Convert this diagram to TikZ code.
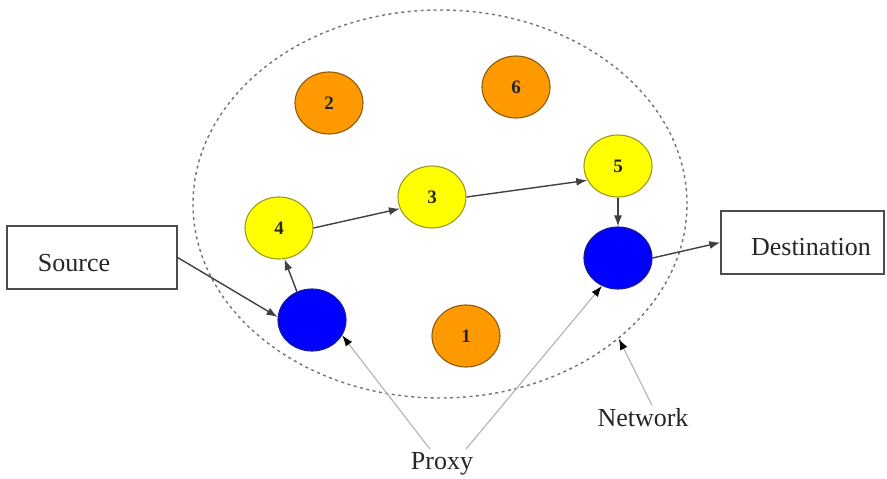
\documentclass[tikz,border=0pt]{standalone}
\usepackage{fontspec}
\setmainfont{Liberation Serif}
\usetikzlibrary{shapes.geometric,arrows.meta}
\definecolor{orng}{HTML}{FF9900}
\definecolor{orngd}{HTML}{8A5A10}
\definecolor{ylw}{HTML}{FFFF00}
\definecolor{ylwd}{HTML}{9A9A20}
\definecolor{blu}{HTML}{0000FF}
\definecolor{blud}{HTML}{1A1A90}
\begin{document}
\begin{tikzpicture}[x=1pt,y=-1pt,
  every node/.style={font=\fontsize{26}{30}\selectfont, text=black!85},
  nd/.style={ellipse, minimum width=68pt, minimum height=62pt, inner sep=0pt, line width=1.1pt, font=\fontsize{19}{22}\selectfont\bfseries},
  orn/.style={nd, fill=orng, draw=orngd},
  yel/.style={nd, fill=ylw, draw=ylwd},
  blue/.style={nd, fill=blu, draw=blud},
  box/.style={draw=black!70, line width=1.3pt, rectangle, inner sep=0pt},
  arr/.style={-{Latex[length=11pt,width=8pt]}, line width=1.4pt, draw=black!75},
  garr/.style={-{Latex[length=11pt,width=8pt,color=black]}, line width=1.1pt, draw=black!30},
]
\useasboundingbox (0,0) rectangle (887,479);
% network
\node[ellipse, draw=black!55, line width=1.4pt, dash pattern=on 3pt off 3.5pt, minimum width=494pt, minimum height=388pt, inner sep=0pt] (net) at (440,204) {};
% nodes
\node[orn] (n2) at (329,103) {2};
\node[orn] (n6) at (516,87) {6};
\node[orn] (n1) at (466,336) {1};
\node[yel] (n5) at (618,166) {5};
\node[yel] (n3) at (432,197) {3};
\node[yel] (n4) at (279,228) {4};
\node[blue] (bL) at (312,320) {};
\node[blue] (bR) at (618,258) {};
% boxes
\node[box, minimum width=170pt, minimum height=63pt] (src) at (92,257.5) {};
\node (srct) at (74,263) {Source};
\node[box, minimum width=163pt, minimum height=63pt] (dst) at (802.5,242.5) {};
\node (dstt) at (811,247) {Destination};
% labels
\node (proxy) at (442,464) {Proxy};
\node (netl) at (643,418) {Network};
% arrows
\draw[arr] (src.east) -- (bL.175);
\draw[arr] (bL.118) -- (n4.-80);
\draw[arr] (n4.east) -- (n3.200);
\draw[arr] (n3.east) -- (n5.205);
\draw[arr] (n5.south) -- (bR.north);
\draw[arr] (bR.east) -- (dst.west);
\draw[garr] ([xshift=-12pt]proxy.north) -- (bL.-27);
\draw[garr] ([xshift=24pt]proxy.north) -- (bR.-120);
\draw[garr] ([xshift=9pt]netl.north) -- (net.-37);
\end{tikzpicture}
\end{document}
